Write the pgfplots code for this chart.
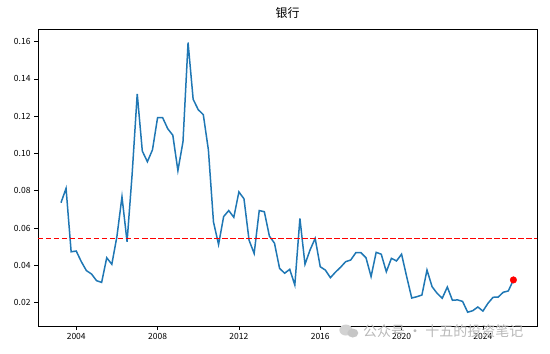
\documentclass[border=0pt]{standalone}
\usepackage{fontspec}
\setmainfont{Noto Sans CJK SC}
\usepackage{pgfplots}
\usepackage{pgfplotstable}
\pgfplotsset{compat=1.18}
\definecolor{c0}{HTML}{1F77B4}
\pgfplotstableread{
x v
2003.25 0.0736
2003.50 0.0813
2003.75 0.0473
2004.00 0.0477
2004.25 0.0420
2004.50 0.0372
2004.75 0.0354
2005.00 0.0318
2005.25 0.0309
2005.50 0.0441
2005.75 0.0406
2006.00 0.0554
2006.25 0.0768
2006.50 0.0527
2006.75 0.0890
2007.00 0.1320
2007.25 0.1013
2007.50 0.0956
2007.75 0.1020
2008.00 0.1192
2008.25 0.1192
2008.50 0.1133
2008.75 0.1098
2009.00 0.0908
2009.25 0.1063
2009.50 0.1595
2009.75 0.1291
2010.00 0.1235
2010.25 0.1208
2010.50 0.1019
2010.75 0.0633
2011.00 0.0512
2011.25 0.0662
2011.50 0.0694
2011.75 0.0658
2012.00 0.0794
2012.25 0.0757
2012.50 0.0535
2012.75 0.0464
2013.00 0.0694
2013.25 0.0688
2013.50 0.0557
2013.75 0.0519
2014.00 0.0384
2014.25 0.0358
2014.50 0.0379
2014.75 0.0295
2015.00 0.0652
2015.25 0.0406
2015.50 0.0483
2015.75 0.0545
2016.00 0.0393
2016.25 0.0375
2016.50 0.0334
2016.75 0.0364
2017.00 0.0390
2017.25 0.0420
2017.50 0.0429
2017.75 0.0468
2018.00 0.0468
2018.25 0.0441
2018.50 0.0340
2018.75 0.0470
2019.00 0.0460
2019.25 0.0366
2019.50 0.0438
2019.75 0.0424
2020.00 0.0460
2020.25 0.0340
2020.50 0.0225
2020.75 0.0232
2021.00 0.0241
2021.25 0.0375
2021.50 0.0286
2021.75 0.0250
2022.00 0.0224
2022.25 0.0284
2022.50 0.0213
2022.75 0.0215
2023.00 0.0207
2023.25 0.0149
2023.50 0.0157
2023.75 0.0177
2024.00 0.0155
2024.25 0.0197
2024.50 0.0229
2024.75 0.0230
2025.00 0.0256
2025.25 0.0263
2025.50 0.0322
}\bankdata
\begin{document}
\begin{tikzpicture}
\begin{axis}[
  scale only axis, width=499pt, height=296.5pt,
  xmin=2002.12, xmax=2026.66, ymin=0.0075, ymax=0.1665,
  xtick={2004,2008,2012,2016,2020,2024},
  ytick={0.02,0.04,0.06,0.08,0.10,0.12,0.14,0.16},
  yticklabel style={/pgf/number format/fixed, /pgf/number format/precision=2, /pgf/number format/fixed zerofill},
  xticklabel style={/pgf/number format/1000 sep={}},
  /pgf/number format/assume math mode=true,
  tick align=outside, major tick length=4pt, tick pos=left,
  ticklabel style={font=\fontsize{8.5}{10}\selectfont},
  axis line style={line width=0.8pt},
  tick style={line width=0.8pt, black},
  title={银行},
  title style={at={(0.5,1)}, anchor=base, yshift=5.5pt, font=\fontsize{12}{14}\selectfont},
]
\addplot[c0, line width=1.5pt] table[x=x, y=v] {\bankdata};
\addplot[red, dash pattern=on 5.5pt off 2.5pt, line width=1.3pt] coordinates {(2002.12,0.0543) (2026.66,0.0543)};
\addplot[only marks, mark=*, mark size=3.3pt, red] coordinates {(2025.5,0.0322)};
\coordinate (bsw) at (rel axis cs:0,0);
\coordinate (bne) at (rel axis cs:1,1);
\coordinate (wm) at (rel axis cs:0.651,-0.017);
\end{axis}
\fill[gray!35] ([shift={(-17pt,1pt)}]wm) ellipse (6.5pt and 5.5pt);
\fill[gray!45] ([shift={(-10pt,-2pt)}]wm) ellipse (5.5pt and 4.5pt);
\node[anchor=west, inner sep=0pt, text=gray!55, font=\fontsize{14}{16}\selectfont] at (wm) {公众号 · 十五的投资笔记};
\pgfresetboundingbox
\path ([shift={(-38pt,-28pt)}]bsw) rectangle ([shift={(13pt,29.5pt)}]bne);
\end{tikzpicture}
\end{document}
